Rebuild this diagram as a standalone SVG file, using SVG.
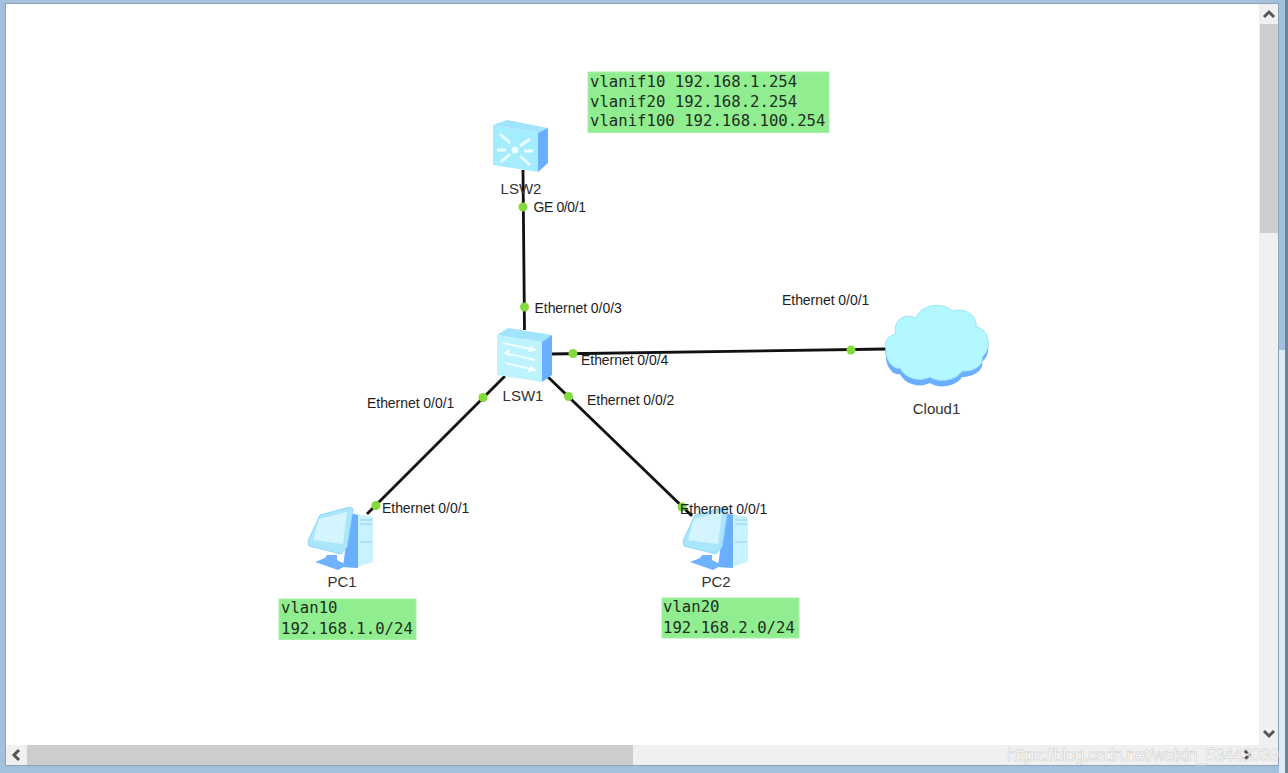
<svg xmlns="http://www.w3.org/2000/svg" width="1288" height="773" viewBox="0 0 1288 773">
<style>
.lab{font-family:"Liberation Sans",Arial,sans-serif;font-size:14px;fill:#1c1c1c;letter-spacing:-.05px}
.nm{font-family:"Liberation Sans",Arial,sans-serif;font-size:15px;fill:#333;text-anchor:middle}
.mono{font-family:"DejaVu Sans Mono","Liberation Mono",monospace;font-size:15.65px;fill:#1f2f1f}
.note{fill:#90ee90;stroke:#a6f0a6;stroke-width:1}
.link{stroke:#111;stroke-width:2.8;fill:none}
.dot{fill:#84d93c}
.arr{fill:none;stroke:#555;stroke-width:3}
</style>
<defs>
<g id="pc">
<path d="M42 6L65 10L65 55L45 61L35 60Z" fill="#c8f2fd"/>
<path d="M42 6L50 8L50 61L35 60Z" fill="#6aaeff"/>
<path d="M12 8L42 0L45 2L39 40L33 47L1 39L0 34Z" fill="#a9e6fb" stroke="#8fd6f8" stroke-width="1"/>
<path d="M11 12L39 5L35 37L5 33Z" fill="#d4f5ff"/>
<path d="M19 48L29 48L29 53L39 58L30 63L7 55L17 51Z" fill="#6fb3ff"/>
<path d="M52 13h12M52 17h12M52 35h12" stroke="#8ecdf0" stroke-width="1.2"/>
</g>
</defs>
<rect width="1288" height="773" fill="#a3c1dc"/>
<rect x="1285" width="3" height="773" fill="#6e8496"/>
<rect x="1279" y="350" width="6" height="423" fill="#dcebf6"/>
<rect x="5" y="3" width="1274" height="763" fill="#8da4b8"/>
<rect x="6" y="4" width="1253" height="741" fill="#fff"/>
<g id="scrollbars">
<rect x="1259" y="4" width="19" height="741" fill="#f0f0f0"/>
<rect x="1260" y="24" width="18" height="209" fill="#cdcdcd"/>
<rect x="6" y="745" width="1272" height="20" fill="#f0f0f0"/>
<rect x="27" y="745" width="606" height="20" fill="#cdcdcd"/>
<path class="arr" d="M1264 17l5-5l5 5M1264 731l5 5l5-5M19 750l-5 5l5 5M1244 750l5 5l-5 5"/>
</g>
<g id="connectors">
<path class="link" d="M523 170L524.500 330"/>
<path class="link" d="M550 354L886 349"/>
<path class="link" d="M505 376L367 514"/>
<path class="link" d="M547 376L692 516"/>
</g>
<g id="ports">
<circle class="dot" cx="523" cy="207" r="4.500"/>
<circle class="dot" cx="524.500" cy="307" r="4.500"/>
<circle class="dot" cx="573" cy="353.500" r="4.500"/>
<circle class="dot" cx="851" cy="350" r="4.500"/>
<circle class="dot" cx="483" cy="397.500" r="4.500"/>
<circle class="dot" cx="568.500" cy="396.500" r="4.500"/>
<circle class="dot" cx="376" cy="505.500" r="4.500"/>
<circle class="dot" cx="682" cy="507" r="4.500"/>
</g>
<g id="LSW2">
<path d="M493 125L507 120L548 128L538 133Z" fill="#a0e4fd"/>
<path d="M493 125L538 133L538 172L493 165Z" fill="#a6ecff"/>
<path d="M538 133L548 128L548 163L538 172Z" fill="#6aaeff"/>
<g stroke="#eaffff" stroke-width="3" fill="none"><path d="M500 134l10 9M501 162l9-8M530 139l-10 7M530 165l-10-9M497 150h9M524 151h9"/></g>
<circle cx="515" cy="150" r="3.500" fill="#eaffff"/>
<text class="nm" x="521" y="194">LSW2</text>
</g>
<g id="LSW1">
<path d="M497 335L508 328L552 335L542 342Z" fill="#a0e4fd"/>
<path d="M497 335L542 342L542 382L497 375Z" fill="#bdf3ff"/>
<path d="M542 342L552 335L552 375L542 382Z" fill="#6aaeff"/>
<g stroke="#f4ffff" stroke-width="1.800" fill="none"><path d="M503 343L535 350M530 346l5 4l-7 1M535 360L505 353M510 350l-5 3l6 3M505 363L535 370M530 366l5 4l-7 1"/></g>
<text class="nm" x="523" y="401">LSW1</text>
</g>
<g id="Cloud1">
<path d="M886 350c-3-8 3-14 10-16c-4-12 8-22 20-16c4-13 26-17 36-7c14-4 26 6 24 16c14 2 16 22 6 30c2 8-8 15-20 15c-6 10-24 12-32 6c-12 6-26 0-30-9c-8 2-15-10-14-19Z" fill="#6aaeff" transform="translate(0,5)"/>
<path d="M886 349c-3-7 3-14 10-15c-4-12 8-22 20-16c4-13 26-17 36-7c14-4 26 6 24 16c14 2 16 22 6 30c2 8-8 15-20 14c-6 10-24 12-32 6c-12 6-26 0-30-9c-8 2-15-10-14-19Z" fill="#b3f7ff" stroke="#9ce2fb" stroke-width="1"/>
<text class="nm" x="936.500" y="414">Cloud1</text>
</g>
<g id="PC1">
<use href="#pc" x="308" y="507"/>
<text class="nm" x="342" y="587">PC1</text>
</g>
<g id="PC2">
<use href="#pc" x="683" y="507"/>
<text class="nm" x="716" y="587">PC2</text>
</g>
<g id="labels">
<text class="lab" x="533.500" y="212" textLength="52.500">GE 0/0/1</text>
<text class="lab" x="534.500" y="313">Ethernet 0/0/3</text>
<text class="lab" x="581" y="365">Ethernet 0/0/4</text>
<text class="lab" x="782" y="305">Ethernet 0/0/1</text>
<text class="lab" x="367" y="408">Ethernet 0/0/1</text>
<text class="lab" x="587" y="405">Ethernet 0/0/2</text>
<text class="lab" x="382" y="513">Ethernet 0/0/1</text>
<text class="lab" x="680" y="514">Ethernet 0/0/1</text>
</g>
<g id="note-vlanif">
<rect class="note" x="588" y="72" width="241" height="60.500"/>
<text class="mono" x="590" y="87">vlanif10 192.168.1.254</text>
<text class="mono" x="590" y="107">vlanif20 192.168.2.254</text>
<text class="mono" x="590" y="126">vlanif100 192.168.100.254</text>
</g>
<g id="note-vlan10">
<rect class="note" x="279" y="599" width="137" height="40.500"/>
<text class="mono" x="281" y="613">vlan10</text>
<text class="mono" x="281" y="634">192.168.1.0/24</text>
</g>
<g id="note-vlan20">
<rect class="note" x="662" y="598" width="137" height="40"/>
<text class="mono" x="663" y="612">vlan20</text>
<text class="mono" x="663" y="633">192.168.2.0/24</text>
</g>
<text x="1007" y="761" font-family="Liberation Sans,sans-serif" font-size="18" fill="#fff" stroke="#b5b5b5" stroke-opacity=".6" stroke-width=".6" textLength="272">https://blog.csdn.net/weixin_53443039</text>
</svg>
